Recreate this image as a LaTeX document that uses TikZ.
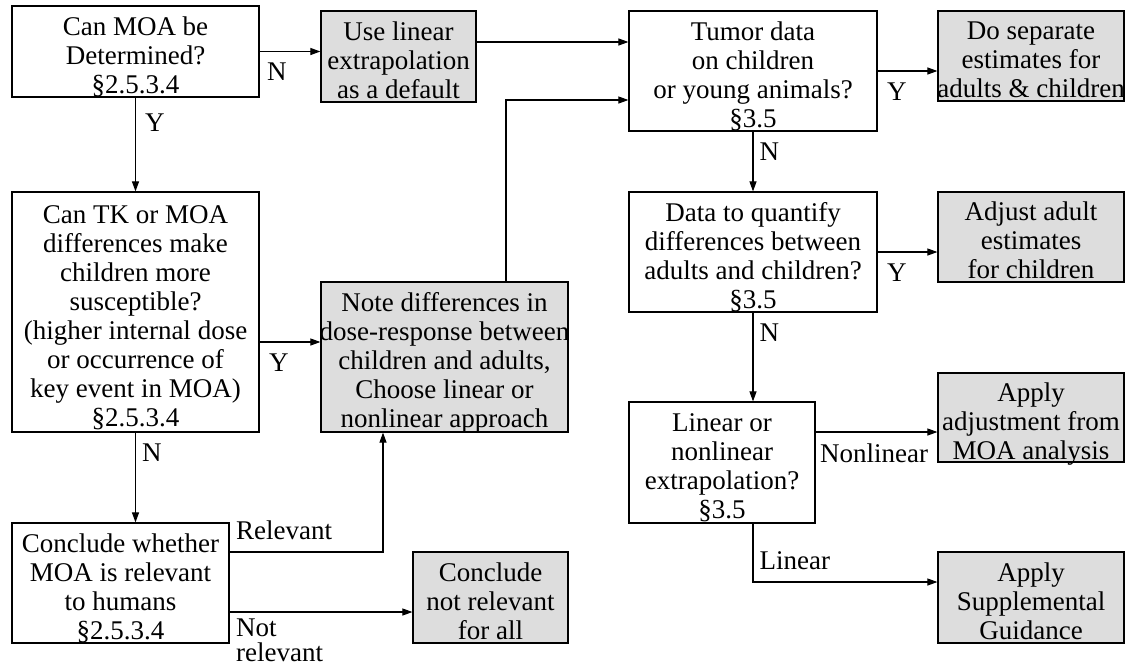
\documentclass[tikz,border=0pt]{standalone}
\usepackage{fontspec}
\setmainfont{Liberation Serif}
\usetikzlibrary{arrows.meta}
\definecolor{boxgray}{RGB}{221,221,221}
\newcommand{\boxtext}[1]{\raisebox{-7pt}[\height][\depth]{\makebox[0pt]{\begin{tabular}{@{}c@{}}#1\end{tabular}}}}

\begin{document}
\begin{tikzpicture}[x=1pt, y=-1pt,
    every node/.style={font=\fontsize{27}{29}\selectfont, inner sep=0},
    qbox/.style={draw, line width=1.2pt, fill=white},
    abox/.style={draw, line width=1.2pt, fill=boxgray},
    arr/.style={line width=1.1pt, -{Triangle[length=10pt, width=7pt]}},
    lbl/.style={anchor=north west, xshift=7pt, yshift=-11pt},
    lblup/.style={anchor=south west, xshift=6pt, yshift=12pt}]
  \useasboundingbox (0,0) rectangle (1126,665);
  % questions
  \node [qbox, minimum width=247, minimum height=91] (q1) at (135.5,51.5) {\boxtext{Can MOA be\\Determined?\\§2.5.3.4}};
  \node [qbox, minimum width=247, minimum height=240] (q2) at (135.5,312) {\boxtext{Can TK or MOA\\differences make\\children more\\susceptible?\\(higher internal dose\\or occurrence of\\key event in MOA)\\§2.5.3.4}};
  \node [qbox, minimum width=217, minimum height=120] (q3) at (120.5,583) {\boxtext{Conclude whether\\MOA is relevant\\to humans\\§2.5.3.4}};
  \node [qbox, minimum width=248, minimum height=120] (q4) at (753,71) {\boxtext{Tumor data\\on children\\or young animals?\\§3.5}};
  \node [qbox, minimum width=248, minimum height=120] (q5) at (753,252) {\boxtext{Data to quantify\\differences between\\adults and children?\\§3.5}};
  \node [qbox, minimum width=186, minimum height=121] (q6) at (722,462.5) {\boxtext{Linear or\\nonlinear\\extrapolation?\\§3.5}};
  % actions
  \node [abox, minimum width=155, minimum height=91] (g1) at (398.5,56.5) {\boxtext{Use linear\\extrapolation\\as a default}};
  \node [abox, minimum width=247, minimum height=150] (g2) at (444.5,357) {\boxtext{Note differences in\\dose-response between\\children and adults,\\Choose linear or\\nonlinear approach}};
  \node [abox, minimum width=155, minimum height=91] (g7) at (490.5,597.5) {\boxtext{Conclude\\not relevant\\for all}};
  \node [abox, minimum width=186, minimum height=90] (g3) at (1031,56) {\boxtext{Do separate\\estimates for\\adults \& children}};
  \node [abox, minimum width=186, minimum height=90] (g4) at (1031,237) {\boxtext{Adjust adult\\estimates\\for children}};
  \node [abox, minimum width=186, minimum height=89] (g5) at (1031,417.5) {\boxtext{Apply\\adjustment from\\MOA analysis}};
  \node [abox, minimum width=186, minimum height=91] (g6) at (1031,597.5) {\boxtext{Apply\\Supplemental\\Guidance}};
  % left column
  \draw [arr] (q1.east) node [lbl] {N} -- (q1.east -| g1.west);
  \draw [arr] (q1.south) node [lbl, xshift=2pt, yshift=-5pt] {Y} -- (q2.north);
  \draw [arr] ([yshift=-30pt]q2.east) node [lbl, xshift=2pt] {Y} -- ([yshift=-30pt]q2.east -| g2.west);
  \draw [arr] (q2.south) node [lbl, xshift=-1pt] {N} -- (q2.south |- q3.north);
  \draw [arr] ([yshift=31pt]q3.east) node [lblup] {Relevant} -| ([xshift=-61.5pt]g2.south);
  \draw [arr] ([yshift=-29pt]q3.east) node [lbl, xshift=-1pt, yshift=5pt, align=left] {Not\\[-4pt]relevant} -- ([yshift=-29pt]q3.east -| g7.west);
  % into the tumor box
  \draw [arr] ([yshift=29pt]q4.west -| g1.east) -- ([yshift=29pt]q4.west);
  \draw [arr] ([xshift=61.5pt]g2.north) |- ([yshift=-29pt]q4.west);
  % right column
  \foreach \a/\b in {q4/g3, q5/g4} {
    \draw [arr] (\a.east) node [lbl, xshift=2pt] {Y} -- (\a.east -| \b.west);
  };
  \draw [arr] (q4.south) node [lbl, xshift=-1pt] {N} -- (q5.north);
  \draw [arr] (q5.south) node [lbl, xshift=-1pt] {N} -- (q5.south |- q6.north);
  \draw [arr] ([yshift=30.5pt]q6.east) node [lbl, xshift=-3pt] {Nonlinear} -- ([yshift=30.5pt]q6.east -| g5.west);
  \draw [arr] (q6.south -| q5.south) |- node [lblup] {Linear} ([yshift=15.5pt]g6.west);
\end{tikzpicture}
\end{document}
